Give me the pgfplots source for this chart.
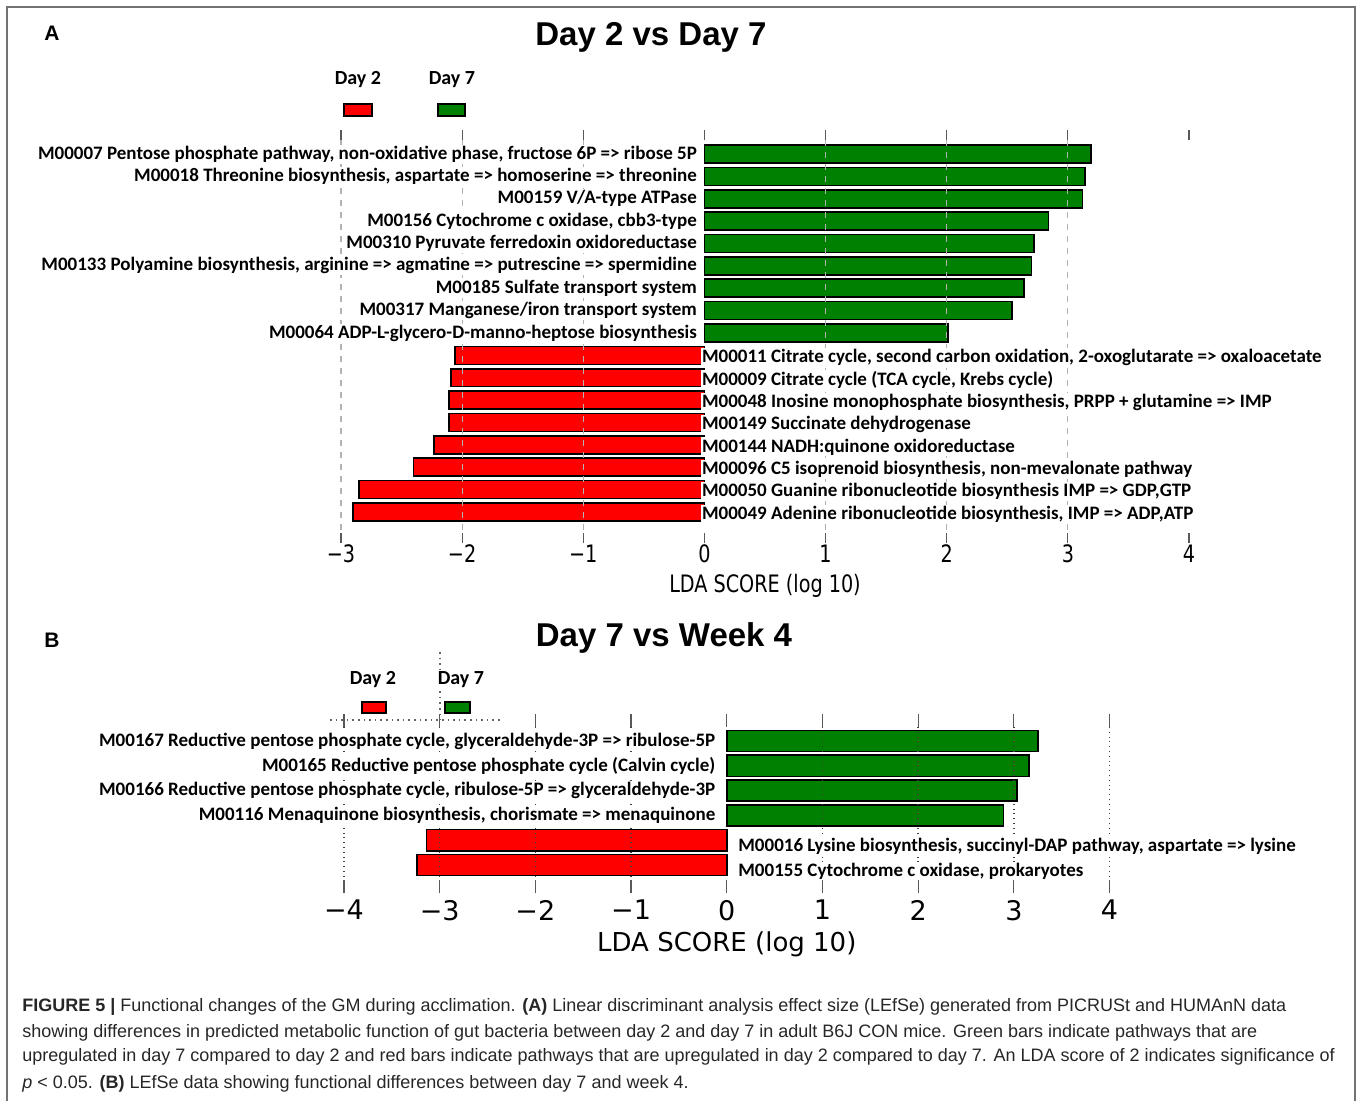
\documentclass[border=0pt]{standalone}
\usepackage{fontspec}
\setmainfont{Liberation Sans}
\newfontfamily\calfont{Carlito}
\newfontfamily\dvfont{DejaVu Sans}
\newfontfamily\dvcfont[FakeStretch=0.8]{DejaVu Sans}
\usepackage{pgfplots}
\pgfplotsset{compat=1.18}
\definecolor{barred}{RGB}{255,0,0}
\definecolor{bargreen}{RGB}{0,128,0}
\tikzset{
  lbl/.style={font=\calfont\bfseries\fontsize{9.5}{10}\selectfont, fill=white, inner sep=0.6pt},
  lgd/.style={font=\calfont\bfseries\fontsize{10}{11}\selectfont},
}
\begin{document}
\begin{tikzpicture}
\begin{scope}[x=0.5pt,y=-0.5pt]
\path[use as bounding box] (0,0) rectangle (1357,1101);
\draw[black!55, line width=1pt] (7,1101) -- (7,7) -- (1355,7) -- (1355,1101);
% Panel A header
\node[font=\bfseries\fontsize{10.5}{12}\selectfont] at (52,33) {A};
\node[font=\bfseries\fontsize{16.5}{20}\selectfont] at (651,37) {Day 2 vs Day 7};
\node[lgd] at (358,80) {Day 2};
\node[lgd] at (452,80) {Day 7};
\draw[fill=barred, draw=black, line width=0.8pt] (344,104) rectangle (372,116);
\draw[fill=bargreen, draw=black, line width=0.8pt] (438,104) rectangle (465,116);
% Panel B header
\node[font=\bfseries\fontsize{10.5}{12}\selectfont] at (52,640) {B};
\node[font=\bfseries\fontsize{16.5}{20}\selectfont] at (664,638) {Day 7 vs Week 4};
\draw[black!60, dotted, line width=0.8pt] (330,720) -- (500,720);
\draw[black!60, dotted, line width=0.8pt] (440,652) -- (440,720);
\node[lgd] at (373,680) {Day 2};
\node[lgd, fill=white, inner sep=0.5pt] at (461,680) {Day 7};
\draw[fill=barred, draw=black, line width=0.8pt] (362,702) rectangle (386,713);
\draw[fill=bargreen, draw=black, line width=0.8pt] (445,702) rectangle (470,713);
\end{scope}

% ---------------- Panel A ----------------
\begin{axis}[
  at={(170.5pt,-70pt)}, anchor=north west,
  scale only axis, width=424pt, height=196.5pt,
  xmin=-3, xmax=4, ymin=0.374, ymax=17.94, y dir=reverse,
  axis line style={draw=none},
  xtick={-3,-2,-1,0,1,2,3,4},
  xticklabels={−3,−2,−1,0,1,2,3,4},
  ytick=\empty,
  tick align=outside, major tick length=5pt,
  tick style={black!65, line width=0.6pt},
  xticklabel style={font=\dvcfont\fontsize{12}{13}\selectfont, yshift=2.5pt},
  extra x ticks={-3,-2,-1,1,2,3},
  extra x tick labels={,,,,,},
  extra x tick style={grid=major, major tick length=0pt, major grid style={black!30, dashed, line width=0.6pt}},
  axis on top,
  xlabel={LDA SCORE (log 10)},
  xlabel style={font=\dvcfont\fontsize{12}{13}\selectfont, yshift=6.5pt},
  xbar, bar width=0.8,
]
\addplot[fill=bargreen, draw=black, line width=0.8pt, bar shift=0pt] coordinates {
(3.19,1) (3.14,2) (3.12,3) (2.84,4) (2.72,5) (2.70,6) (2.64,7) (2.54,8) (2.01,9)};
\addplot[fill=barred, draw=black, line width=0.8pt, bar shift=0pt] coordinates {
(-2.06,10) (-2.09,11) (-2.11,12) (-2.11,13) (-2.23,14) (-2.40,15) (-2.85,16) (-2.90,17)};
\pgfplotsinvokeforeach{1,...,17}{\coordinate (A#1) at (axis cs:0,#1);}
\end{axis}

\node[lbl, anchor=east] at ([xshift=-3pt]A1) {M00007 Pentose phosphate pathway, non-oxidative phase, fructose 6P => ribose 5P};
\node[lbl, anchor=east] at ([xshift=-3pt]A2) {M00018 Threonine biosynthesis, aspartate => homoserine => threonine};
\node[lbl, anchor=east] at ([xshift=-3pt]A3) {M00159 V/A-type ATPase};
\node[lbl, anchor=east] at ([xshift=-3pt]A4) {M00156 Cytochrome c oxidase, cbb3-type};
\node[lbl, anchor=east] at ([xshift=-3pt]A5) {M00310 Pyruvate ferredoxin oxidoreductase};
\node[lbl, anchor=east] at ([xshift=-3pt]A6) {M00133 Polyamine biosynthesis, arginine => agmatine => putrescine => spermidine};
\node[lbl, anchor=east] at ([xshift=-3pt]A7) {M00185 Sulfate transport system};
\node[lbl, anchor=east] at ([xshift=-3pt]A8) {M00317 Manganese/iron transport system};
\node[lbl, anchor=east] at ([xshift=-3pt]A9) {M00064 ADP-L-glycero-D-manno-heptose biosynthesis};
\node[lbl, anchor=west] at ([xshift=-2pt,yshift=-1pt]A10) {M00011 Citrate cycle, second carbon oxidation, 2-oxoglutarate => oxaloacetate};
\node[lbl, anchor=west] at ([xshift=-2pt,yshift=-1pt]A11) {M00009 Citrate cycle (TCA cycle, Krebs cycle)};
\node[lbl, anchor=west] at ([xshift=-2pt,yshift=-1pt]A12) {M00048 Inosine monophosphate biosynthesis, PRPP + glutamine => IMP};
\node[lbl, anchor=west] at ([xshift=-2pt,yshift=-1pt]A13) {M00149 Succinate dehydrogenase};
\node[lbl, anchor=west] at ([xshift=-2pt,yshift=-1pt]A14) {M00144 NADH:quinone oxidoreductase};
\node[lbl, anchor=west] at ([xshift=-2pt,yshift=-1pt]A15) {M00096 C5 isoprenoid biosynthesis, non-mevalonate pathway};
\node[lbl, anchor=west] at ([xshift=-2pt,yshift=-1pt]A16) {M00050 Guanine ribonucleotide biosynthesis IMP => GDP,GTP};
\node[lbl, anchor=west] at ([xshift=-2pt,yshift=-1pt]A17) {M00049 Adenine ribonucleotide biosynthesis, IMP => ADP,ATP};

% ---------------- Panel B ----------------
\begin{axis}[
  at={(172pt,-363.5pt)}, anchor=north west,
  scale only axis, width=382.8pt, height=76.5pt,
  xmin=-4, xmax=4, ymin=0.435, ymax=6.605, y dir=reverse,
  axis line style={draw=none},
  xtick={-4,-3,-2,-1,0,1,2,3,4},
  xticklabels={−4,−3,−2,−1,0,1,2,3,4},
  ytick=\empty,
  tick align=outside, major tick length=6.5pt,
  tick style={black!65, line width=0.6pt},
  xticklabel style={font=\dvfont\fontsize{13.5}{14}\selectfont},
  extra x ticks={-4,-3,-2,-1,1,2,3,4},
  extra x tick labels={,,,,,,,},
  extra x tick style={grid=major, major tick length=0pt, major grid style={black!75, dotted, line width=0.7pt}},
  axis on top,
  xlabel={LDA SCORE (log 10)},
  xlabel style={font=\dvfont\fontsize{13}{14}\selectfont, yshift=7.5pt},
  xbar, bar width=0.85,
]
\addplot[fill=bargreen, draw=black, line width=0.8pt, bar shift=0pt] coordinates {
(3.25,1) (3.16,2) (3.03,3) (2.89,4)};
\addplot[fill=barred, draw=black, line width=0.8pt, bar shift=0pt] coordinates {
(-3.14,5) (-3.24,6)};
\pgfplotsinvokeforeach{1,...,6}{\coordinate (B#1) at (axis cs:0,#1);}
\end{axis}

\node[lbl, anchor=east] at ([xshift=-5pt]B1) {M00167 Reductive pentose phosphate cycle, glyceraldehyde-3P => ribulose-5P};
\node[lbl, anchor=east] at ([xshift=-5pt]B2) {M00165 Reductive pentose phosphate cycle (Calvin cycle)};
\node[lbl, anchor=east] at ([xshift=-5pt]B3) {M00166 Reductive pentose phosphate cycle, ribulose-5P => glyceraldehyde-3P};
\node[lbl, anchor=east] at ([xshift=-5pt]B4) {M00116 Menaquinone biosynthesis, chorismate => menaquinone};
\node[lbl, anchor=west] at ([xshift=5pt,yshift=-3pt]B5) {M00016 Lysine biosynthesis, succinyl-DAP pathway, aspartate => lysine};
\node[lbl, anchor=west] at ([xshift=5pt,yshift=-3pt]B6) {M00155 Cytochrome c oxidase, prokaryotes};

% ---------------- Caption ----------------
\begin{scope}[x=0.5pt,y=-0.5pt, every node/.style={anchor=base west, inner sep=0pt, text=black!85, font=\fontsize{9}{10}\selectfont}]
\node at (22,1012) {\textbf{FIGURE 5 |} Functional changes of the GM during acclimation. \textbf{(A)} Linear discriminant analysis effect size (LEfSe) generated from PICRUSt and HUMAnN data};
\node at (22,1037) {showing differences in predicted metabolic function of gut bacteria between day 2 and day 7 in adult B6J CON mice. Green bars indicate pathways that are};
\node at (22,1062) {upregulated in day 7 compared to day 2 and red bars indicate pathways that are upregulated in day 2 compared to day 7. An LDA score of 2 indicates significance of};
\node at (22,1088) {\textit{p} < 0.05. \textbf{(B)} LEfSe data showing functional differences between day 7 and week 4.};
\end{scope}
\end{tikzpicture}
\end{document}
